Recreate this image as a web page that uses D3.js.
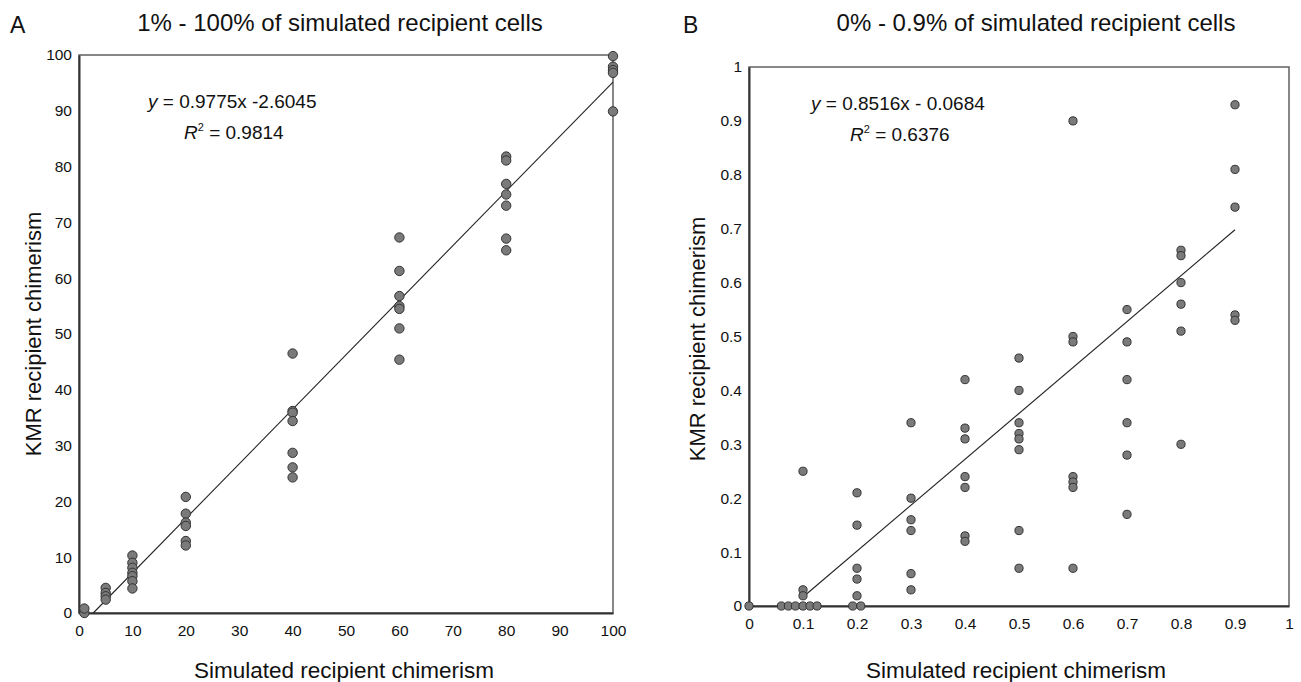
<!DOCTYPE html>
<html>
<head>
<meta charset="utf-8">
<script src="https://cdn.jsdelivr.net/npm/d3@7"></script>
<style>
  body { margin: 0; background: #fff; }
  svg text { font-family: "Liberation Sans", Arial, sans-serif; fill: #111; }
</style>
</head>
<body>
<svg id="chart"></svg>
<script>
// Panel A: 1% - 100% simulated recipient cells
const xA = [1, 1, 5, 5, 5, 5, 10, 10, 10, 10, 10, 10, 10,
    20, 20, 20, 20, 20, 20, 40, 40, 40, 40, 40, 40, 40,
    60, 60, 60, 60, 60, 60, 60, 80, 80, 80, 80, 80, 80, 80,
    100, 100, 100, 100, 100];
const yA = [0, 0.8, 4.5, 3.6, 3.0, 2.4, 10.3, 9.0, 8.1, 7.2, 6.6, 5.7, 4.4,
    20.8, 17.8, 16.2, 15.6, 12.9, 12.1, 46.5, 36.2, 35.9, 34.4, 28.7, 26.1, 24.3,
    67.3, 61.3, 56.8, 55.0, 54.5, 51.0, 45.4, 81.8, 81.1, 76.9, 75.0, 73.0, 67.1, 65.0,
    99.8, 97.9, 97.3, 96.8, 89.9];
const ticksA = [0, 10, 20, 30, 40, 50, 60, 70, 80, 90, 100];
const fitA = { slope: 0.9775, intercept: -2.6045, r2: "0.9814" };

// Panel B: 0% - 0.9% simulated recipient cells
const xB = [0, 0.06, 0.073, 0.086, 0.1, 0.113, 0.126, 0.1, 0.1, 0.1,
    0.2, 0.2, 0.2, 0.2, 0.2, 0.192, 0.207,
    0.3, 0.3, 0.3, 0.3, 0.3, 0.3,
    0.4, 0.4, 0.4, 0.4, 0.4, 0.4, 0.4,
    0.5, 0.5, 0.5, 0.5, 0.5, 0.5, 0.5, 0.5,
    0.6, 0.6, 0.6, 0.6, 0.6, 0.6, 0.6,
    0.7, 0.7, 0.7, 0.7, 0.7, 0.7,
    0.8, 0.8, 0.8, 0.8, 0.8, 0.8,
    0.9, 0.9, 0.9, 0.9, 0.9];
const yB = [0, 0, 0, 0, 0, 0, 0, 0.25, 0.03, 0.019,
    0.21, 0.15, 0.07, 0.05, 0.019, 0, 0,
    0.34, 0.2, 0.16, 0.14, 0.06, 0.03,
    0.42, 0.33, 0.31, 0.24, 0.22, 0.13, 0.12,
    0.46, 0.4, 0.34, 0.32, 0.31, 0.29, 0.14, 0.07,
    0.9, 0.5, 0.49, 0.24, 0.23, 0.22, 0.07,
    0.55, 0.49, 0.42, 0.34, 0.28, 0.17,
    0.66, 0.65, 0.6, 0.56, 0.51, 0.3,
    0.93, 0.81, 0.74, 0.54, 0.53];
const ticksB = [0, 0.1, 0.2, 0.3, 0.4, 0.5, 0.6, 0.7, 0.8, 0.9, 1];
const fitB = { slope: 0.8516, intercept: -0.0684, r2: "0.6376", from: 0.1, to: 0.9 };

const width = 1301, height = 682;
const svg = d3.select("#chart").attr("width", width).attr("height", height);

function drawPanel(opt) {
    const x = d3.scaleLinear().domain(opt.domain).range([opt.left, opt.right]);
    const y = d3.scaleLinear().domain(opt.domain).range([opt.bottom, opt.top]);
    const g = svg.append("g");

    // frame
    g.append("rect")
        .attr("x", opt.left).attr("y", opt.top)
        .attr("width", opt.right - opt.left).attr("height", opt.bottom - opt.top)
        .attr("fill", "none").attr("stroke", "#555").attr("stroke-width", 1.4);

    const fmt = opt.fmt;
    const xAxis = g.append("g")
        .attr("transform", `translate(0,${opt.bottom})`)
        .call(d3.axisBottom(x).tickValues(opt.ticks).tickFormat(fmt).tickSize(0).tickPadding(12));
    const yAxis = g.append("g")
        .attr("transform", `translate(${opt.left},0)`)
        .call(d3.axisLeft(y).tickValues(opt.ticks).tickFormat(fmt).tickSize(0).tickPadding(7));
    [xAxis, yAxis].forEach(a => {
        a.select(".domain").attr("stroke", "#333").attr("stroke-width", 2);
        a.selectAll("text").attr("font-size", 15.5).attr("fill", "#111")
            .style("font-family", '"Liberation Sans", Arial, sans-serif');
    });

    // trend line
    const x0 = opt.fit.from !== undefined ? opt.fit.from : -opt.fit.intercept / opt.fit.slope;
    const x1 = opt.fit.to;
    g.append("line")
        .attr("x1", x(x0)).attr("y1", y(opt.fit.slope * x0 + opt.fit.intercept))
        .attr("x2", x(x1)).attr("y2", y(opt.fit.slope * x1 + opt.fit.intercept))
        .attr("stroke", "#222").attr("stroke-width", 1.1);

    // points
    g.selectAll("circle")
        .data(opt.xs.map((v, i) => [v, opt.ys[i]]))
        .enter().append("circle")
        .attr("cx", d => x(d[0]))
        .attr("cy", d => y(d[1]))
        .attr("r", opt.r)
        .attr("fill", "#7a7a7a")
        .attr("stroke", "#333")
        .attr("stroke-width", 1);

    // equation
    const eq = g.append("text")
        .attr("x", opt.eqX).attr("y", opt.eqY)
        .attr("font-size", 19);
    eq.append("tspan").attr("font-style", "italic").text("y");
    eq.append("tspan").text(opt.eqText);
    const r = g.append("text")
        .attr("x", opt.rX).attr("y", opt.eqY + 31)
        .attr("font-size", 19);
    r.append("tspan").attr("font-style", "italic").text("R");
    r.append("tspan").attr("font-size", 11).attr("dy", -8).text("2");
    r.append("tspan").attr("dy", 8).text(" = " + opt.fit.r2);

    // titles
    svg.append("text").attr("x", opt.letterX).attr("y", 33)
        .attr("font-size", 23).text(opt.letter);
    svg.append("text").attr("x", opt.titleX).attr("y", 31)
        .attr("text-anchor", "middle").attr("font-size", 24).text(opt.title);
    svg.append("text").attr("x", opt.xLabelX).attr("y", 678)
        .attr("text-anchor", "middle").attr("font-size", 22.5).text("Simulated recipient chimerism");
    svg.append("text")
        .attr("transform", `translate(${opt.yLabelX},${opt.yLabelY}) rotate(-90)`)
        .attr("text-anchor", "middle").attr("font-size", 22).text("KMR recipient chimerism");
}

drawPanel({
    xs: xA, ys: yA, ticks: ticksA, domain: [0, 100], fmt: d3.format("d"), r: 4.7,
    left: 79, right: 613, top: 55, bottom: 613,
    fit: Object.assign({ to: 100 }, fitA),
    eqX: 148, eqY: 108, rX: 184, eqText: " = 0.9775x -2.6045",
    letter: "A", letterX: 10, title: "1% - 100% of simulated recipient cells", titleX: 340,
    xLabelX: 344, yLabelX: 41, yLabelY: 334
});

drawPanel({
    xs: xB, ys: yB, ticks: ticksB, domain: [0, 1], r: 4.1,
    fmt: d => d === 0 || d === 1 ? d3.format("d")(d) : d3.format(".1f")(d),
    left: 749, right: 1289, top: 67, bottom: 606,
    fit: fitB,
    eqX: 811, eqY: 110, rX: 850, eqText: " = 0.8516x - 0.0684",
    letter: "B", letterX: 683, title: "0% - 0.9% of simulated recipient cells", titleX: 1036,
    xLabelX: 1016, yLabelX: 705, yLabelY: 339
});
</script>
</body>
</html>
